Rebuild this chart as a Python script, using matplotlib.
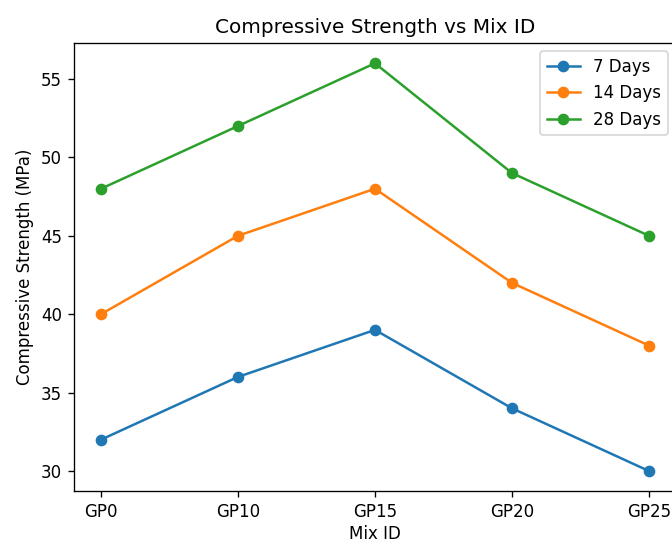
import matplotlib
matplotlib.use("Agg")
import matplotlib.pyplot as plt

mix_ids  = ["GP0", "GP10", "GP15", "GP20", "GP25"]
days_7   = [32, 36, 39, 34, 30]
days_14  = [40, 45, 48, 42, 38]
days_28  = [48, 52, 56, 49, 45]

# reference looks like a default matplotlib render scaled up ~1.2x
DPI = 120
fig = plt.figure(figsize=(672 / DPI, 543 / DPI), dpi=DPI)
ax = fig.add_axes([0.1095, 0.095, 0.897, 0.826])

ax.plot(mix_ids, days_7,  marker='o', label='7 Days')
ax.plot(mix_ids, days_14, marker='o', label='14 Days')
ax.plot(mix_ids, days_28, marker='o', label='28 Days')

ax.set_title("Compressive Strength vs Mix ID")
ax.set_xlabel("Mix ID", labelpad=2.5)
ax.set_ylabel("Compressive Strength (MPa)")
ax.legend(loc='upper right')

fig.savefig("out.png", dpi=DPI)
